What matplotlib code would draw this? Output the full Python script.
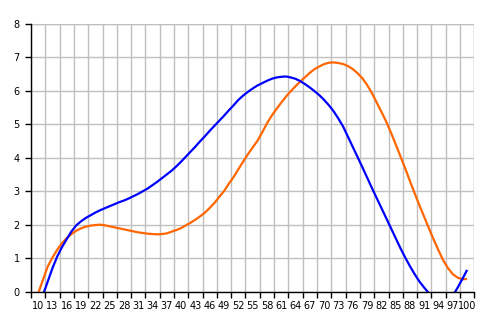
import matplotlib
matplotlib.use("Agg")
import matplotlib.pyplot as plt
from matplotlib.ticker import FixedLocator

x_values = list(range(10, 101))

orange = [-0.05, 0.35, 0.75, 1.02, 1.25, 1.45, 1.60, 1.72, 1.82, 1.89,
          1.94, 1.97, 1.99, 2.00, 1.98, 1.95, 1.92, 1.89, 1.86, 1.83,
          1.80, 1.77, 1.75, 1.73, 1.72, 1.71, 1.72, 1.74, 1.79, 1.84,
          1.90, 1.98, 2.06, 2.15, 2.25, 2.36, 2.50, 2.65, 2.83, 3.00,
          3.22, 3.42, 3.65, 3.88, 4.10, 4.30, 4.50, 4.75, 5.02, 5.25,
          5.45, 5.64, 5.82, 5.98, 6.13, 6.27, 6.40, 6.53, 6.64, 6.72,
          6.79, 6.83, 6.84, 6.82, 6.79, 6.73, 6.64, 6.52, 6.37, 6.17,
          5.93, 5.65, 5.37, 5.08, 4.75, 4.40, 4.04, 3.68, 3.30, 2.93,
          2.57, 2.23, 1.88, 1.55, 1.23, 0.93, 0.70, 0.52, 0.42, 0.37,
          0.38]

blue = [-0.55, -0.10, 0.30, 0.70, 1.05, 1.33, 1.57, 1.80, 1.98, 2.10,
        2.20, 2.28, 2.36, 2.43, 2.49, 2.55, 2.61, 2.67, 2.72, 2.78,
        2.85, 2.92, 3.00, 3.08, 3.18, 3.28, 3.39, 3.50, 3.61, 3.74,
        3.88, 4.03, 4.18, 4.33, 4.49, 4.64, 4.80, 4.95, 5.10, 5.25,
        5.41, 5.56, 5.72, 5.85, 5.96, 6.06, 6.15, 6.22, 6.29, 6.35,
        6.39, 6.41, 6.42, 6.39, 6.35, 6.28, 6.19, 6.09, 5.98, 5.86,
        5.72, 5.56, 5.38, 5.16, 4.92, 4.62, 4.32, 4.02, 3.72, 3.41,
        3.10, 2.80, 2.50, 2.20, 1.90, 1.60, 1.30, 1.02, 0.76, 0.52,
        0.30, 0.12, -0.05, -0.18, -0.28, -0.32, -0.28, -0.12, 0.12, 0.38,
        0.65]

tick_labels = list(range(10, 101, 3))
y_ticks = list(range(0, 9))

fig = plt.figure(figsize=(4.89, 3.29), dpi=100)
ax = fig.add_axes([31 / 489, 1 - 291.7 / 329, (474.3 - 31) / 489, (291.7 - 23.5) / 329])

ax.plot(x_values, orange, color="#FF6600", linewidth=1.6, solid_capstyle="butt", zorder=3)
ax.plot(x_values, blue, color="#0000FF", linewidth=1.6, solid_capstyle="butt", zorder=4)

ax.set_xlim(8.5, 101.5)
ax.set_ylim(0, 8)

# major ticks at group boundaries (tick marks + gridlines), minor at label positions
boundaries = [t - 1.5 for t in tick_labels] + [tick_labels[-1] + 1.5]
ax.xaxis.set_major_locator(FixedLocator(boundaries))
ax.xaxis.set_major_formatter(plt.NullFormatter())
ax.xaxis.set_minor_locator(FixedLocator(tick_labels))
ax.set_xticklabels([str(t) for t in tick_labels], minor=True)
ax.tick_params(axis="x", which="major", direction="out", length=4, width=1, color="black")
ax.tick_params(axis="x", which="minor", length=0, pad=7, labelsize=7)

ax.set_yticks(y_ticks)
ax.set_yticklabels([str(t) for t in y_ticks])
ax.tick_params(axis="y", direction="out", length=4, width=1, color="black", pad=4, labelsize=7)

ax.grid(True, which="major", color="#C0C0C0", linewidth=1.0)
ax.set_axisbelow(True)

for s in ["top", "right"]:
    ax.spines[s].set_visible(False)
for s in ["left", "bottom"]:
    ax.spines[s].set_color("black")
    ax.spines[s].set_linewidth(1.0)
    ax.spines[s].set_zorder(5)

# right/top border as gridline colour
ax.axvline(101.5, color="#C0C0C0", linewidth=1.0, zorder=1)
ax.axhline(8, color="#C0C0C0", linewidth=1.0, zorder=1)

fig.savefig("out.png", dpi=100)
